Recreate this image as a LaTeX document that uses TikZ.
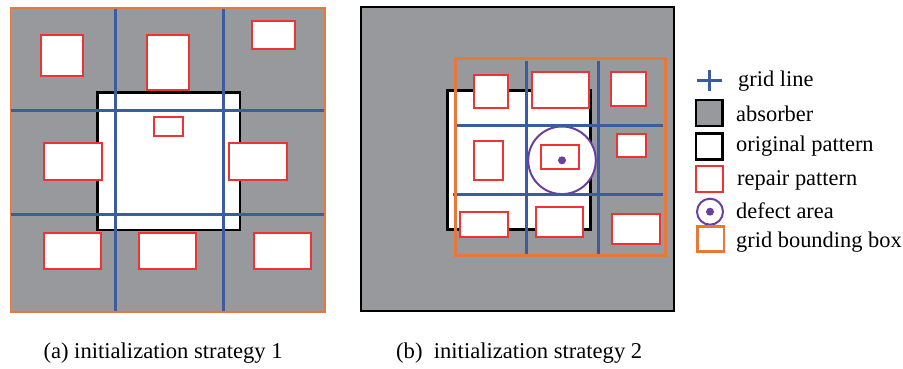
\documentclass[tikz,border=0pt]{standalone}
\usepackage{fontspec}
\setmainfont{Liberation Serif}
\definecolor{absgray}{HTML}{98999D}
\definecolor{gridblue}{HTML}{3B5C9E}
\definecolor{repred}{HTML}{EE3333}
\definecolor{bboxorange}{HTML}{E8773A}
\definecolor{defpurple}{HTML}{6A3FA0}
\tikzset{
  absorber/.style={fill=absgray},
  origpat/.style={draw=black, fill=white, line width=2.5pt},
  repair/.style={draw=repred, fill=white, line width=2pt},
  gridline/.style={draw=gridblue, line width=3pt},
  gridbox/.style={draw=bboxorange, line width=3pt},
  defect/.style={draw=defpurple, line width=2pt},
  label/.style={anchor=base west, inner sep=0pt, font=\fontsize{22.4}{26}\selectfont},
  caption/.style={anchor=base west, inner sep=0pt, font=\fontsize{22.6}{26}\selectfont},
}
\begin{document}
\begin{tikzpicture}[x=1pt, y=-1pt]
\useasboundingbox (0,0) rectangle (903,369);

% ---------- (a) initialization strategy 1 ----------
\fill[absorber] (10.7,8) rectangle (325,312);
\draw[origpat] (97.7,92.7) rectangle (240,230);
\foreach \xa/\ya/\xb/\yb in {
  40.7/34.7/83/76, 146.7/34.7/189.3/89.7, 252.3/21.3/295.3/48.7,
  154.3/117.3/183/136, 44.3/143.3/101.7/180, 229.3/143.3/286.7/180,
  44.3/232.7/101/269, 139.3/232.7/196/269, 254.3/232.7/311.3/269}
  \draw[repair] (\xa,\ya) rectangle (\xb,\yb);
\draw[gridline] (115.7,8) -- (115.7,313);
\draw[gridline] (223.7,8) -- (223.7,313);
\draw[gridline] (10.7,110.3) -- (325,110.3);
\draw[gridline] (10.7,214) -- (325,214);
\draw[draw=bboxorange, line width=1.5pt] (10.7,8) rectangle (325,312);

% ---------- (b) initialization strategy 2 ----------
\draw[absorber, draw=black, line width=2pt] (360.7,7.3) rectangle (674.3,311);
\draw[origpat] (447.3,90.7) rectangle (590.3,229.3);
\draw[defect, fill=white] (562,160.3) circle[radius=33.8pt];
\draw[gridline] (526.3,60.7) -- (526.3,254);
\draw[gridline] (598,60.7) -- (598,254);
\draw[gridline] (457,125.7) -- (662.7,125.7);
\draw[gridline] (453,194.7) -- (663.3,194.7);
\foreach \xa/\ya/\xb/\yb in {
  474.3/74.7/508.3/108, 531.7/72.3/588.7/108, 611.3/72.3/646/106,
  474.3/141.3/503/180, 540.7/145.3/579.3/169.3, 616.7/133.7/646/157.3,
  459.7/212.3/507.7/236.7, 536.3/207/583/236.7, 612.3/213.7/660.3/243.7}
  \draw[repair] (\xa,\ya) rectangle (\xb,\yb);
\fill[defpurple] (562,160.3) circle[radius=4pt];
\draw[gridbox] (455,59) rectangle (665,255.7);

% ---------- legend ----------
\draw[gridline] (697.3,80.7) -- (721.7,80.7);
\draw[gridline] (709.5,70.5) -- (709.5,91);
\node[label] (lgrid) at (738,86.7) {grid line};
\draw[absorber, draw=black, line width=2.5pt] (696,100) rectangle (722.7,126);
\node[label] (labs) at (736,121.7) {absorber};
\draw[origpat] (696,133.3) rectangle (722.7,159.3);
\node[label] (lorig) at (736,151.7) {original pattern};
\draw[repair] (696,165.7) rectangle (722.7,192);
\node[label] (lrep) at (737,185) {repair pattern};
\draw[defect, fill=white] (710,211.7) circle[radius=13pt];
\fill[defpurple] (710,211.7) circle[radius=4pt];
\node[label] (ldef) at (736,218.3) {defect area};
\draw[draw=bboxorange, line width=2.5pt] (697.3,226.7) rectangle (724,251.7);
\node[label] (lbox) at (736,247.3) {grid bounding box};

% ---------- captions ----------
\node[caption] (capa) at (43.3,358.3) {(a) initialization strategy 1};
\node[caption] (capb) at (396,358.3) {(b)\ \ initialization strategy 2};
\end{tikzpicture}
\end{document}
